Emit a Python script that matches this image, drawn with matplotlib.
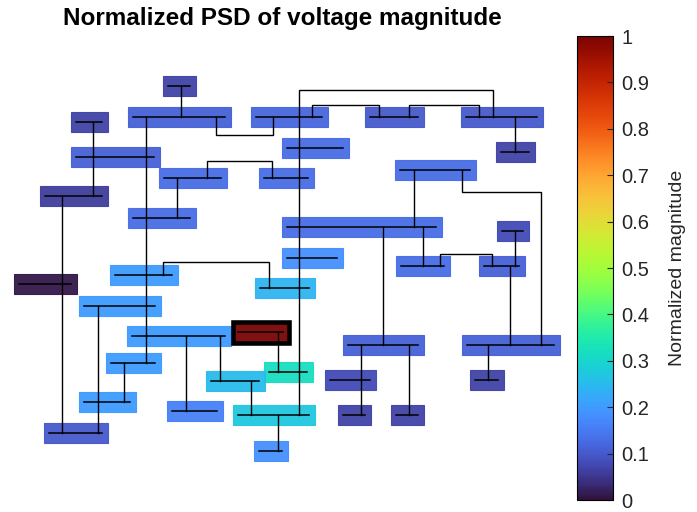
import numpy as np
import matplotlib
matplotlib.use("Agg")
import matplotlib.pyplot as plt
from matplotlib.patches import Rectangle
from matplotlib.colors import Normalize
from matplotlib.cm import ScalarMappable

plt.rcParams['font.family'] = ['Liberation Sans', 'DejaVu Sans']

# bus layout (drawing coords, y grows downward) and normalized PSD values
bus_x0 = [168, 133, 76, 76, 164, 45, 133, 256, 370, 466, 287, 501, 264, 400, 287, 502,
          401, 484, 348, 467, 330, 343, 396, 475, 19, 115, 260, 287, 84, 132, 238, 111,
          269, 211, 84, 172, 238, 49, 259]
bus_x1 = [190, 225, 102, 154, 221, 102, 190, 322, 418, 537, 343, 529, 308, 470, 436, 523,
          444, 519, 418, 554, 370, 365, 418, 498, 71, 172, 309, 337, 155, 225, 283, 155,
          307, 259, 130, 217, 309, 102, 282]
bus_y = [86, 117, 122, 157, 178, 196, 218, 117, 117, 117, 148, 152, 178, 170, 227, 231,
         266, 266, 345, 345, 380, 415, 415, 380, 284, 275, 288, 258, 306, 336, 332, 363,
         372, 381, 402, 411, 415, 433, 451]
bus_val = [0.07, 0.11, 0.07, 0.11, 0.13, 0.06, 0.13, 0.12, 0.10, 0.10, 0.13, 0.07, 0.13,
           0.13, 0.13, 0.08, 0.13, 0.11, 0.11, 0.11, 0.08, 0.07, 0.07, 0.07, 0.01, 0.20,
           0.24, 0.18, 0.20, 0.20, 1.00, 0.20, 0.32, 0.25, 0.20, 0.16, 0.27, 0.10, 0.18]
highlight = 30

# lines: (from bus, to bus, x at from, x at to, y of the jog or None)
edges = [
    (0, 1, 181, 181, None), (1, 7, 216, 273, 135), (2, 5, 93, 93, None),
    (1, 31, 146, 146, None), (4, 12, 207, 272, 161), (4, 6, 177, 177, None),
    (5, 37, 62, 62, None), (7, 8, 312, 379, 105), (8, 9, 409, 479, 105),
    (9, 36, 493, 299, 90), (9, 11, 515, 515, None), (13, 14, 414, 414, None),
    (13, 19, 462, 541, 192), (14, 18, 383, 383, None), (14, 16, 423, 423, None),
    (16, 17, 440, 492, 254), (15, 17, 515, 515, None), (17, 19, 510, 510, None),
    (18, 21, 361, 361, None), (18, 22, 409, 409, None), (19, 23, 488, 488, None),
    (25, 26, 163, 269, 262), (28, 37, 98, 98, None), (31, 34, 124, 124, None),
    (29, 35, 186, 186, None), (29, 33, 220, 220, None), (30, 32, 278, 278, None),
    (33, 36, 251, 251, None), (36, 38, 278, 278, None),
]

cmap = plt.get_cmap('turbo')
norm = Normalize(0, 1)

fig = plt.figure(figsize=(6.97, 5.12), dpi=100)
ax = fig.add_axes([0, 0, 570 / 697, 1])
ax.set_xlim(0, 570)
ax.set_ylim(512, 0)
ax.axis('off')

# bus boxes
for i in range(len(bus_y)):
    c = cmap(norm(bus_val[i]))
    x0 = bus_x0[i] - 5.5
    w = bus_x1[i] - bus_x0[i] + 11
    ax.add_patch(Rectangle((x0, bus_y[i] - 10), w, 20, facecolor=c, alpha=0.95,
                           edgecolor=c, linewidth=0.8, zorder=1))
    if i == highlight:
        ax.add_patch(Rectangle((x0, bus_y[i] - 10.5), w, 21, facecolor='none',
                               edgecolor='black', linewidth=3.3, zorder=3))

# connections
for i, j, xa, xb, ym in edges:
    if ym is None:
        xs, ys = [xa, xb], [bus_y[i], bus_y[j]]
    else:
        xs, ys = [xa, xa, xb, xb], [bus_y[i], ym, ym, bus_y[j]]
    ax.plot(xs, ys, color='black', lw=1.0, zorder=2, solid_joinstyle='miter')

# bus bars
for i in range(len(bus_y)):
    ax.plot([bus_x0[i], bus_x1[i]], [bus_y[i], bus_y[i]], color='black', lw=1.1, zorder=4)

fig.text(282 / 697, 1 - 18 / 512, "Normalized PSD of voltage magnitude",
         ha='center', va='center', fontsize=17.5, fontweight='bold')

cax = fig.add_axes([577 / 697, 1 - 500 / 512, 36 / 697, 464 / 512])
cb = fig.colorbar(ScalarMappable(norm=norm, cmap=cmap), cax=cax)
cb.set_ticks(np.arange(0, 1.01, 0.1))
cb.set_ticklabels(['0', '0.1', '0.2', '0.3', '0.4', '0.5', '0.6', '0.7', '0.8', '0.9', '1'])
cax.tick_params(direction='in', length=4, width=0.8, labelsize=14.5, colors='#262626', pad=6)
cb.outline.set_linewidth(0.8)
cb.set_label('Normalized magnitude', fontsize=14, color='#262626', labelpad=14)

fig.savefig('out.png', dpi=100)
